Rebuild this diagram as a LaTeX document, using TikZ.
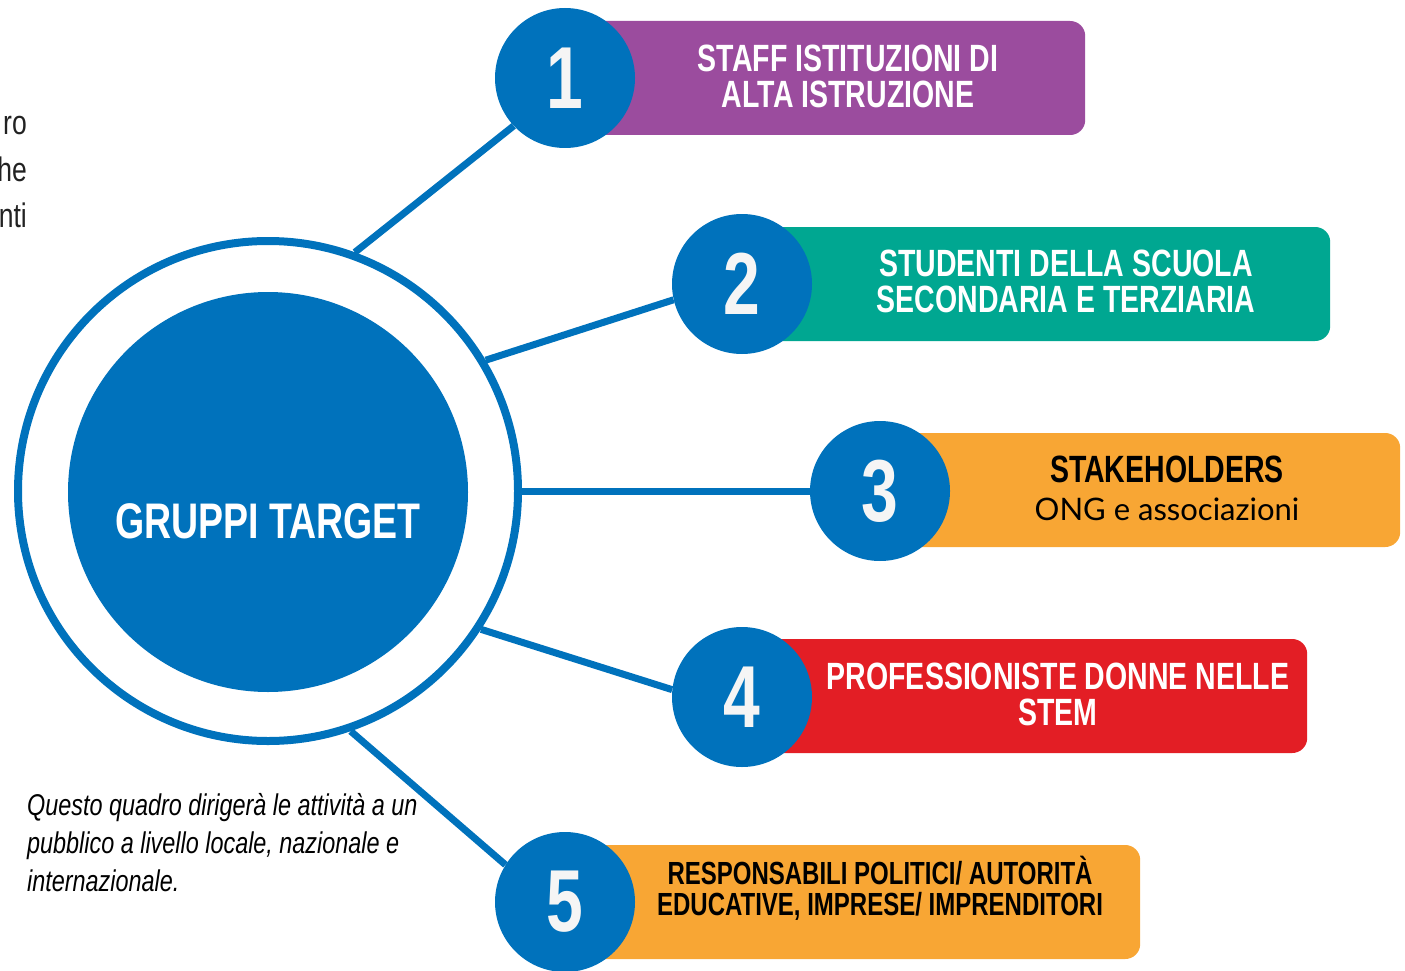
\documentclass[tikz,border=0pt]{standalone}
\usepackage{fontspec}
\setmainfont{Liberation Sans}
\newfontfamily\condfont[FakeStretch=0.75]{Liberation Sans}
\newfontfamily\narrowfont[FakeStretch=0.78]{Liberation Sans}
\newfontfamily\roundfont{Lato}

\definecolor{targetblue}{RGB}{0,114,188}
\definecolor{numwhite}{RGB}{245,245,245}
\definecolor{boxpurple}{RGB}{155,76,158}
\definecolor{boxteal}{RGB}{0,167,145}
\definecolor{boxorange}{RGB}{248,166,52}
\definecolor{boxred}{RGB}{227,30,37}
\definecolor{textgray}{RGB}{34,34,34}

\begin{document}
\begin{tikzpicture}[x=1pt,y=-1pt,
    num node/.style={circle,fill=targetblue,minimum size=140pt,inner sep=0pt,text=numwhite,font=\condfont\bfseries\fontsize{88}{88}\selectfont},
    box node/.style={rounded corners=15pt,minimum height=114pt,anchor=west,inner sep=0pt},
    title node/.style={align=center,inner sep=0pt,font=\condfont\bfseries\fontsize{38}{36}\selectfont},
    cut node/.style={anchor=base east,inner sep=0pt,text=textgray,font=\narrowfont\fontsize{34}{34}\selectfont},
    link/.style={draw=targetblue,line width=7pt}]
    \useasboundingbox (0,0) rectangle (1405,971);

    % cut text at the left edge
    \node[cut node] (f1) at (27,135) {ro};
    \node[cut node] (f2) at (27,181) {he};
    \node[cut node] (f3) at (27,227) {nti};

    % centre
    \node[circle,draw=targetblue,line width=8pt,fill=white,minimum size=500pt] (ring) at (268,491) {};
    \node[circle,fill=targetblue,minimum size=400pt] (core) at (268,492) {};
    \node[text=white,inner sep=0pt,font=\condfont\bfseries\fontsize{50}{50}\selectfont] (gt) at (268,521) {GRUPPI TARGET};

    % boxes
    \node[box node,fill=boxpurple,minimum width=520pt] (b1) at (565,78) {};
    \node[box node,fill=boxteal,minimum width=588pt] (b2) at (742,284) {};
    \node[box node,fill=boxorange,minimum width=520pt] (b3) at (880,490) {};
    \node[box node,fill=boxred,minimum width=565pt] (b4) at (742,696) {};
    \node[box node,fill=boxorange,minimum width=575pt] (b5) at (565,902) {};

    % numbers
    \node[num node] (1) at (565,78) {1};
    \node[num node] (2) at (742,284) {2};
    \node[num node] (3) at (880,491) {3};
    \node[num node] (4) at (742,697) {4};
    \node[num node] (5) at (565,902) {5};

    \path[link]
        (ring.70) edge (1.223)
        (ring.31.5) edge (2.193)
        (ring.0) edge (3.180)
        (ring.-33) edge (4.174)
        (ring.-71) edge (5.148)
    ;

    % labels
    \node[title node,text=white] (t1) at (848,76) {STAFF ISTITUZIONI DI\\ALTA ISTRUZIONE};
    \node[title node,text=white] (t2) at (1066,281) {STUDENTI DELLA SCUOLA\\SECONDARIA E TERZIARIA};
    \node[title node,text=black] (t3) at (1167,469) {STAKEHOLDERS};
    \node[inner sep=0pt,text=black,font=\roundfont\fontsize{31}{31}\selectfont] (t3b) at (1167,509) {ONG e associazioni};
    \node[title node,text=white] (t4) at (1058,694) {PROFESSIONISTE DONNE NELLE\\STEM};
    \node[title node,text=black,font=\condfont\bfseries\fontsize{32}{31}\selectfont] (t5) at (880,888) {RESPONSABILI POLITICI/ AUTORITÀ\\EDUCATIVE, IMPRESE/ IMPRENDITORI};

    \node[anchor=north west,align=left,inner sep=0pt,text=black,font=\narrowfont\itshape\fontsize{30}{38}\selectfont] (note) at (27,793) {Questo quadro dirigerà le attività a un\\pubblico a livello locale, nazionale e\\internazionale.};
\end{tikzpicture}
\end{document}
